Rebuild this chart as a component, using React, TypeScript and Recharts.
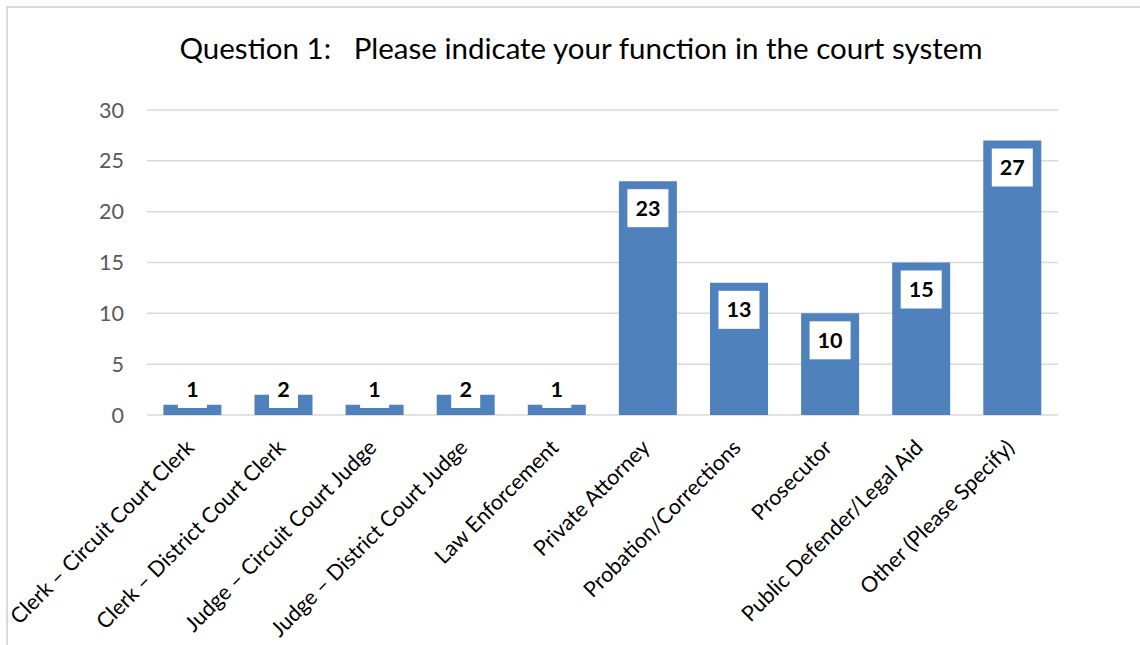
import { BarChart, Bar, XAxis, YAxis, CartesianGrid, LabelList } from 'recharts';

const categories = [
  'Clerk – Circuit Court Clerk',
  'Clerk – District Court Clerk',
  'Judge – Circuit Court Judge',
  'Judge – District Court Judge',
  'Law Enforcement',
  'Private Attorney',
  'Probation/Corrections',
  'Prosecutor',
  'Public Defender/Legal Aid',
  'Other (Please Specify)',
];

const counts = [1, 2, 1, 2, 1, 23, 13, 10, 15, 27];

const yTicks = [0, 5, 10, 15, 20, 25, 30];

const chartData = categories.map((name, i) => ({ name, count: counts[i] }));

const FONT = 'Lato, "Open Sans", sans-serif';
const BASE_Y = 415;

function CategoryTick(props: any) {
  const { x, y, payload } = props;
  return (
    <g transform={`translate(${x + 3},${y + 26})`}>
      <text
        x={0}
        y={0}
        textAnchor="end"
        transform="rotate(-45)"
        fontSize={21.5}
        fontFamily={FONT}
        fill="#000"
      >
        {payload.value}
      </text>
    </g>
  );
}

function ValueLabel(props: any) {
  const { x, y, width, value } = props;
  const digits = String(value).length;
  const boxW = 17 + 12 * digits;
  const boxH = 38;
  const top = Math.min(y + 8, BASE_Y - 7 - boxH);
  const cx = x + width / 2;
  return (
    <g>
      <rect x={cx - boxW / 2} y={top} width={boxW} height={boxH} fill="#fff" />
      <text
        x={cx}
        y={top + boxH / 2 + 7.5}
        textAnchor="middle"
        fontSize={21.5}
        fontWeight="bold"
        fontFamily={FONT}
        fill="#000"
      >
        {value}
      </text>
    </g>
  );
}

export default function App() {
  return (
    <div style={{ position: 'absolute', left: 0, top: 0, width: 1140, height: 645, background: '#fff', overflow: 'hidden' }}>
      <div
        style={{
          position: 'absolute',
          left: 6,
          top: 6,
          width: 1200,
          height: 700,
          borderTop: '2px solid #d9d9d9',
          borderLeft: '2px solid #d9d9d9',
        }}
      />
      <div
        style={{
          position: 'absolute',
          left: 0,
          top: 28,
          width: 1162,
          textAlign: 'center',
          fontFamily: FONT,
          fontSize: 29.5,
          lineHeight: '40px',
          color: '#000',
          whiteSpace: 'pre',
        }}
      >
        {'Question 1:   Please indicate your function in the court system'}
      </div>
      <div style={{ position: 'absolute', left: 0, top: 0 }}>
        <BarChart
          width={1140}
          height={645}
          data={chartData}
          margin={{ top: 110, right: 82, bottom: 0, left: 0 }}
          barCategoryGap="18%"
        >
          <CartesianGrid vertical={false} stroke="#d9d9d9" strokeWidth={1.5} />
          <XAxis
            dataKey="name"
            interval={0}
            height={230}
            axisLine={false}
            tickLine={false}
            tick={<CategoryTick />}
          />
          <YAxis
            width={147}
            domain={[0, 30]}
            ticks={yTicks}
            axisLine={false}
            tickLine={false}
            tickSize={0}
            tickMargin={23}
            tick={{ fontSize: 21.5, fill: '#595959', fontFamily: FONT }}
          />
          <Bar dataKey="count" fill="#4f81bd" isAnimationActive={false}>
            <LabelList dataKey="count" content={<ValueLabel />} />
          </Bar>
        </BarChart>
      </div>
    </div>
  );
}
